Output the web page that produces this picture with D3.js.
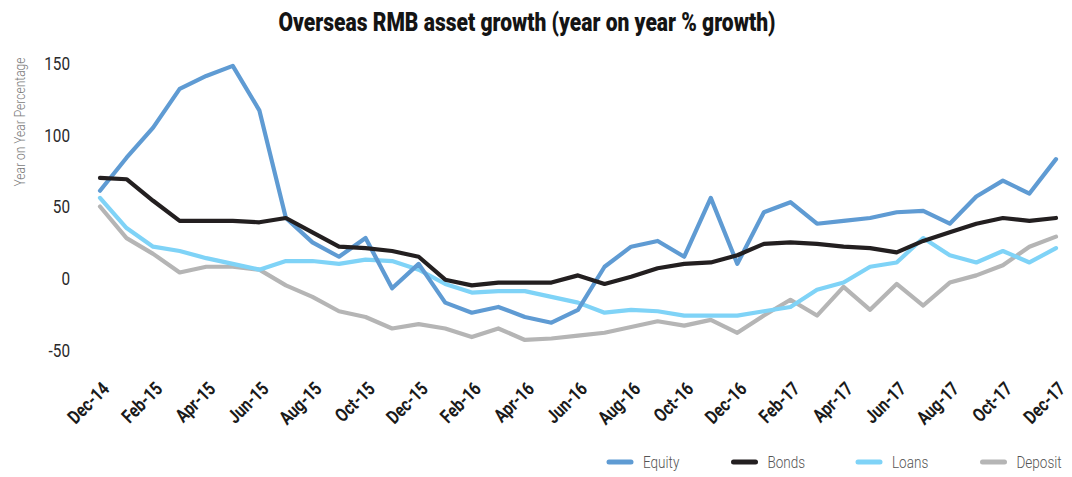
<!DOCTYPE html>
<html><head><meta charset="utf-8">
<script src="https://cdn.jsdelivr.net/npm/d3@7"></script>
<style>
body{margin:0;background:#fff;}
svg{display:block;}
.rob{font-family:Roboto,"Liberation Sans",sans-serif;}
</style></head>
<body>
<svg id="c" width="1072" height="477"></svg>
<script>
const months = ["Dec-14","Jan-15","Feb-15","Mar-15","Apr-15","May-15","Jun-15","Jul-15","Aug-15","Sep-15","Oct-15","Nov-15",
"Dec-15","Jan-16","Feb-16","Mar-16","Apr-16","May-16","Jun-16","Jul-16","Aug-16","Sep-16","Oct-16","Nov-16",
"Dec-16","Jan-17","Feb-17","Mar-17","Apr-17","May-17","Jun-17","Jul-17","Aug-17","Sep-17","Oct-17","Nov-17","Dec-17"];
const equity  = [61,84,105,132,141,148,117,42,25,15,28,-7,10,-17,-24,-20,-27,-31,-22,8,22,26,15,56,10,46,53,38,40,42,46,47,38,57,68,59,83];
const bonds   = [70,69,54,40,40,40,39,42,32,22,21,19,15,-1,-5,-3,-3,-3,2,-4,1,7,10,11,16,24,25,24,22,21,18,26,32,38,42,40,42];
const loans   = [56,35,22,19,14,10,6,12,12,10,13,12,6,-4,-10,-9,-9,-13,-17,-24,-22,-23,-26,-26,-26,-23,-20,-8,-3,8,11,28,16,11,19,11,21];
const deposit = [50,28,17,4,8,8,6,-5,-13,-23,-27,-35,-32,-35,-41,-35,-43,-42,-40,-38,-34,-30,-33,-29,-38,-26,-15,-26,-6,-22,-4,-19,-3,2,9,22,29];
const seriesNames = ["Equity","Bonds","Loans","Deposit"];
const seriesColors = ["#5f9bd3","#231f20","#7fd3f7","#b5b5b5"];
const yTicks = [150,100,50,0,-50];
const xTickLabels = months.filter((d,i)=>i%2===0);
const title = "Overseas RMB asset growth (year on year % growth)";
const yTitle = "Year on Year Percentage";

const svg = d3.select("#c");
const x = d3.scalePoint().domain(months).range([100,1056]);
const y = d3.scaleLinear().domain([-50,150]).range([350,63]);

// title
svg.append("text").attr("class","rob").attr("x",527).attr("y",31)
  .attr("text-anchor","middle").attr("font-size",25).attr("font-weight",900)
  .attr("fill","#141414").attr("textLength",497).attr("lengthAdjust","spacingAndGlyphs").text(title);

// y title
svg.append("text").attr("class","rob").attr("transform","translate(25,122) rotate(-90) scale(0.86,1)")
  .attr("text-anchor","middle").attr("font-size",14).attr("font-weight",300).attr("fill","#7a7a7a").text(yTitle);

// y axis
const ya = svg.append("g").attr("transform","translate(70,0)")
  .call(d3.axisLeft(y).tickValues(yTicks).tickSize(0).tickPadding(0).tickFormat(d=>String(d)));
ya.select(".domain").remove();
ya.selectAll("text").attr("class","rob").attr("font-size",18).attr("fill","#2a2a2a")
  .attr("transform","scale(0.85,1)").attr("dy","0.36em");

// x axis
const xa = svg.append("g").attr("transform","translate(0,366)")
  .call(d3.axisBottom(x).tickValues(xTickLabels).tickSize(0).tickPadding(0));
xa.select(".domain").remove();
xa.selectAll("text").attr("class","rob").attr("font-size",19).attr("font-weight","bold")
  .attr("fill","#1a1a1a").attr("text-anchor","end").attr("dy","0")
  .attr("transform","translate(10,24) rotate(-45) scale(0.8,1)");

// lines
const data = [equity,bonds,loans,deposit];
const line = d3.line().x((d,i)=>x(months[i])).y(d=>y(d));
const order = [3,2,0,1];
order.forEach(k=>{
  svg.append("path").datum(data[k]).attr("d",line).attr("fill","none")
    .attr("stroke",seriesColors[k]).attr("stroke-width",4.2)
    .attr("stroke-linejoin","round").attr("stroke-linecap","round");
});

// legend
const lg = svg.append("g").attr("transform","translate(607,462)");
seriesNames.forEach((n,i)=>{
  const g = lg.append("g").attr("transform",`translate(${i*124.5},0)`);
  g.append("line").attr("x1",2).attr("x2",24).attr("y1",0).attr("y2",0)
    .attr("stroke",seriesColors[i]).attr("stroke-width",5).attr("stroke-linecap","round");
  g.append("text").attr("class","rob").attr("x",36).attr("y",6).attr("font-size",16.5)
    .attr("font-weight",300).attr("fill","#555")
    .attr("transform","translate(36,0) scale(0.82,1) translate(-36,0)").text(n);
});
</script>
</body></html>
